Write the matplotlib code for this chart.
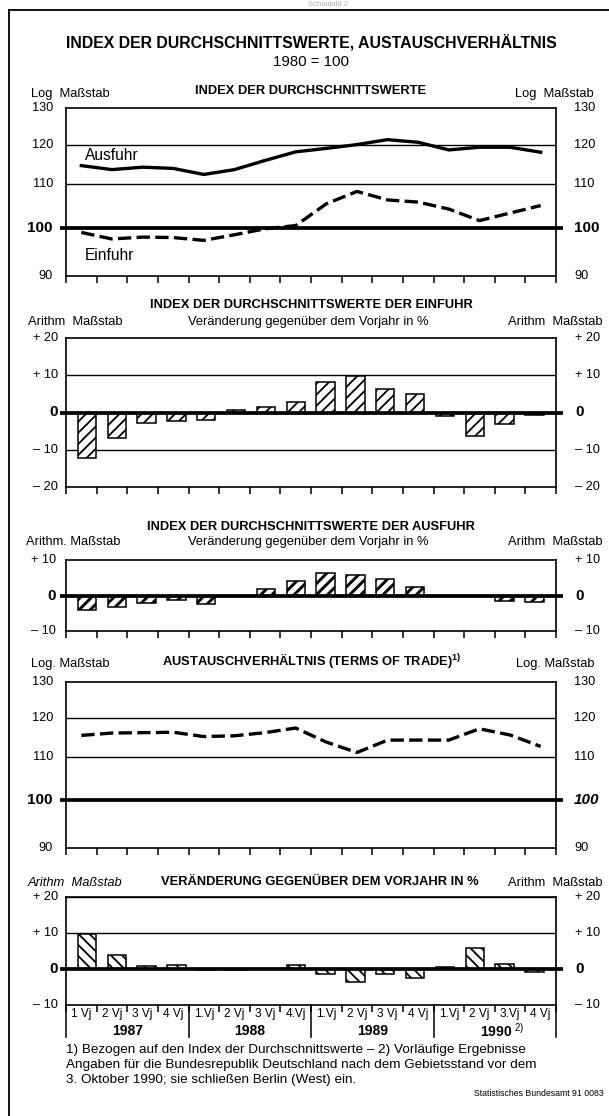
import numpy as np
import matplotlib
matplotlib.use("Agg")
import matplotlib.pyplot as plt
from matplotlib.lines import Line2D

plt.rcParams['font.family'] = ['Liberation Sans', 'DejaVu Sans']
plt.rcParams['mathtext.fontset'] = 'custom'
plt.rcParams['mathtext.rm'] = 'Liberation Sans'
plt.rcParams['mathtext.bf'] = 'Liberation Sans:bold'

# ---- data (quarters 1987 Q1 .. 1990 Q4) ----
quarter_labels = ["1 Vj", "2 Vj", "3 Vj", "4 Vj", "1.Vj", "2 Vj", "3 Vj", "4.Vj",
                  "1.Vj", "2 Vj", "3 Vj", "4 Vj", "1.Vj", "2 Vj", "3.Vj", "4 Vj"]
years = ["1987", "1988", "1989", "1990"]

ausfuhr = [114.6, 113.6, 114.2, 113.9, 112.4, 113.6, 115.9, 118.1,
           119.0, 120.0, 121.3, 120.6, 118.6, 119.3, 119.3, 118.0]
einfuhr = [99.0, 97.6, 98.0, 97.9, 97.3, 98.5, 99.8, 100.5,
           105.4, 108.3, 106.3, 105.8, 104.2, 101.6, 103.3, 105.0]
einfuhr_change = [-12.2, -6.8, -2.8, -2.4, -2.0, 0.6, 1.6, 2.7,
                  8.1, 9.8, 6.3, 5.1, -1.0, -6.2, -3.0, -0.8]
ausfuhr_change = [-4.0, -3.3, -2.2, -1.4, -2.3, 0.0, 1.9, 4.0,
                  6.2, 5.8, 4.7, 2.3, 0.0, -0.2, -1.5, -1.7]
terms_of_trade = [115.5, 116.1, 116.2, 116.3, 115.2, 115.4, 116.2, 117.4,
                  113.8, 111.2, 114.3, 114.3, 114.3, 117.2, 115.6, 112.7]
terms_change = [9.6, 3.9, 0.8, 1.0, -0.2, -0.3, 0.0, 1.2,
                -1.5, -3.6, -1.3, -2.5, 0.5, 5.9, 1.5, -0.8]

W, H = 609, 1116
fig = plt.figure(figsize=(W / 100, H / 100), dpi=100)


def px_rect(x0, y0, x1, y1):
    return [x0 / W, 1 - y1 / H, (x1 - x0) / W, (y1 - y0) / H]


def ft(x, y, s, **kw):
    kw.setdefault('va', 'center')
    fig.text(x / W, 1 - y / H, s, **kw)


n = len(ausfuhr)
xq = np.arange(n) + 0.5
xbar = 0.685 + 0.974 * np.arange(n)
AX_L, AX_R = 66, 556
SUB = 9.3      # bold panel titles
SMALL = 9.3    # scale captions


def base_axes(y0, y1):
    ax = fig.add_axes(px_rect(AX_L, y0, AX_R, y1))
    ax.set_xlim(0, n)
    ax.set_xticks(np.arange(n + 1))
    ax.set_xticklabels([])
    ax.tick_params(axis='x', direction='out', length=5, width=1.1, color='black')
    ax.tick_params(axis='y', length=0, labelleft=False)
    ax.set_yticks([])
    ax.minorticks_off()
    for s in ax.spines.values():
        s.set_linewidth(1.2)
    return ax


def ylabels(ax, vals, texts, lx, rx, bold_val, size=9.2, italic_right=False):
    trans = ax.get_yaxis_transform()
    for v, t in zip(vals, texts):
        strong = v == bold_val
        fw = 'bold' if strong else 'normal'
        fs = size + 1.8 if strong else size
        ax.text((lx - AX_L) / (AX_R - AX_L), v, t, transform=trans, ha='right',
                va='center', fontsize=fs, fontweight=fw)
        st = 'italic' if (strong and italic_right) else 'normal'
        ax.text((rx - AX_L) / (AX_R - AX_L), v, t, transform=trans, ha='left',
                va='center', fontsize=fs, fontweight=fw, style=st)


def grid(ax, vals, strong):
    for v in vals:
        if v == strong:
            ax.plot([-0.2, n + 0.23], [v, v], color='black', lw=2.7,
                    clip_on=False, zorder=4, solid_capstyle='butt')
        else:
            ax.axhline(v, color='black', lw=1.0, zorder=1)


# ---- frame and headings ----
fig.add_artist(Line2D([9 / W, 9 / W], [0, 1 - 10 / H], color='black', lw=1.3))
fig.add_artist(Line2D([9 / W, 1], [1 - 10 / H, 1 - 10 / H], color='black', lw=1.3))
ft(328, 5, "Schaubild 2", ha='center', fontsize=5.5, color='#aaaaaa')
ft(311, 42, "INDEX DER DURCHSCHNITTSWERTE, AUSTAUSCHVERHÄLTNIS",
   ha='center', fontsize=11.4, fontweight='bold')
ft(311, 62, "1980 = 100", ha='center', fontsize=10.8)

# ---- panel 1: index of average values ----
ft(31, 94, "Log  Maßstab", fontsize=SMALL)
ft(594, 94, "Log  Maßstab", ha='right', fontsize=SMALL)
ft(311, 91, "INDEX DER DURCHSCHNITTSWERTE", ha='center', fontsize=SUB, fontweight='bold')
ax1 = base_axes(108, 276)
ax1.set_yscale('log')
ax1.set_ylim(90, 130)
ax1.set_yticks([])
ax1.minorticks_off()
ax1.tick_params(axis='y', which='both', length=0, labelleft=False)
idx_ticks = [90, 100, 110, 120, 130]
grid(ax1, [110, 120, 100], 100)
ylabels(ax1, idx_ticks, [str(v) for v in idx_ticks], 53, 574, 100)
ax1.plot(xq, ausfuhr, color='black', lw=2.4, zorder=5)
ax1.plot(xq, einfuhr, color='black', lw=2.4, dashes=(4.0, 1.6), zorder=5)
ft(85, 156, "Ausfuhr", fontsize=11.2)
ft(85, 255, "Einfuhr", fontsize=11.2)

chg_ticks = [20, 10, 0, -10, -20]
chg_text = ["+ 20", "+ 10", "0", "– 10", "– 20"]

# ---- panel 2: import change ----
ft(311, 305, "INDEX DER DURCHSCHNITTSWERTE DER EINFUHR", ha='center',
   fontsize=SUB, fontweight='bold')
ft(28, 322, "Arithm  Maßstab", fontsize=SMALL)
ft(308, 322, "Veränderung gegenüber dem Vorjahr in %", ha='center', fontsize=SMALL)
ft(602, 322, "Arithm  Maßstab", ha='right', fontsize=SMALL)
ax2 = base_axes(338, 487)
ax2.set_ylim(-20, 20)
grid(ax2, [10, -10, 0], 0)
ylabels(ax2, chg_ticks, chg_text, 58, 575, 0)
with plt.rc_context({'hatch.linewidth': 1.3}):
    ax2.bar(xbar, einfuhr_change, width=0.6, facecolor='white',
            edgecolor='black', hatch='///', lw=1.1, zorder=3)

# ---- panel 3: export change ----
ft(311, 527, "INDEX DER DURCHSCHNITTSWERTE DER AUSFUHR", ha='center',
   fontsize=SUB, fontweight='bold')
ft(26, 542, "Arithm. Maßstab", fontsize=SMALL)
ft(308, 542, "Veränderung gegenüber dem Vorjahr in %", ha='center', fontsize=SMALL)
ft(602, 542, "Arithm  Maßstab", ha='right', fontsize=SMALL)
ax3 = base_axes(560, 631)
ax3.set_ylim(-10, 10)
grid(ax3, [0], 0)
ylabels(ax3, [10, 0, -10], ["+ 10", "0", "– 10"], 56, 575, 0)
with plt.rc_context({'hatch.linewidth': 2.1}):
    ax3.bar(xbar, ausfuhr_change, width=0.6, facecolor='white',
            edgecolor='black', hatch='///', lw=1.1, zorder=3)

# ---- panel 4: terms of trade ----
ft(31, 664, "Log. Maßstab", fontsize=SMALL)
ft(595, 664, "Log. Maßstab", ha='right', fontsize=SMALL)
ft(312, 661, r"AUSTAUSCHVERHÄLTNIS (TERMS OF TRADE)$^{\mathbf{1)}}$", ha='center',
   fontsize=SUB, fontweight='bold')
ax4 = base_axes(682, 848)
ax4.set_yscale('log')
ax4.set_ylim(90, 130)
ax4.set_yticks([])
ax4.minorticks_off()
ax4.tick_params(axis='y', which='both', length=0, labelleft=False)
grid(ax4, [110, 120, 100], 100)
ylabels(ax4, idx_ticks, [str(v) for v in idx_ticks], 53, 574, 100, italic_right=True)
ax4.plot(xq, terms_of_trade, color='black', lw=2.4, dashes=(4.0, 1.6), zorder=5)

# ---- panel 5: terms of trade change ----
ft(28, 883, "Arithm  Maßstab", fontsize=SMALL, style='italic')
ft(320, 882, "VERÄNDERUNG GEGENÜBER DEM VORJAHR IN %", ha='center',
   fontsize=SUB, fontweight='bold')
ft(602, 883, "Arithm  Maßstab", ha='right', fontsize=SMALL)
ax5 = base_axes(897, 1005)
ax5.set_ylim(-10, 20)
grid(ax5, [20, 10, 0], 0)
ylabels(ax5, [20, 10, 0, -10], ["+ 20", "+ 10", "0", "– 10"], 58, 575, 0)
with plt.rc_context({'hatch.linewidth': 1.3}):
    ax5.bar(xbar, terms_change, width=0.6, facecolor='white',
            edgecolor='black', hatch='\\\\\\', lw=1.1, zorder=3)

ah = 1005 - 897
xt = ax5.get_xaxis_transform()
for x, lab in zip(xq, quarter_labels):
    ax5.text(x, -9 / ah, lab, transform=xt, ha='center', va='center', fontsize=8.6)
for k, yr in enumerate(years):
    lab = yr if k < 3 else yr + r"$^{\mathrm{\ 2)}}$"
    ax5.text(4 * k + 2 + (0.25 if k == 3 else 0), -26 / ah, lab, transform=xt,
             ha='center', va='center', fontsize=10, fontweight='bold')
for b in range(0, n + 1, 4):
    ax5.plot([b, b], [0, -32 / ah], transform=xt, color='black', lw=1.1, clip_on=False)

# ---- footnotes ----
ft(66, 1050, "1) Bezogen auf den Index der Durchschnittswerte – 2) Vorläufige Ergebnisse",
   fontsize=9.7)
ft(66, 1065, "Angaben für die Bundesrepublik Deutschland nach dem Gebietsstand vor dem",
   fontsize=9.7)
ft(66, 1080, "3. Oktober 1990; sie schließen Berlin (West) ein.", fontsize=9.7)
ft(604, 1093, "Statistisches Bundesamt 91 0083", ha='right', fontsize=6.3)

fig.savefig("out.png", dpi=100)
